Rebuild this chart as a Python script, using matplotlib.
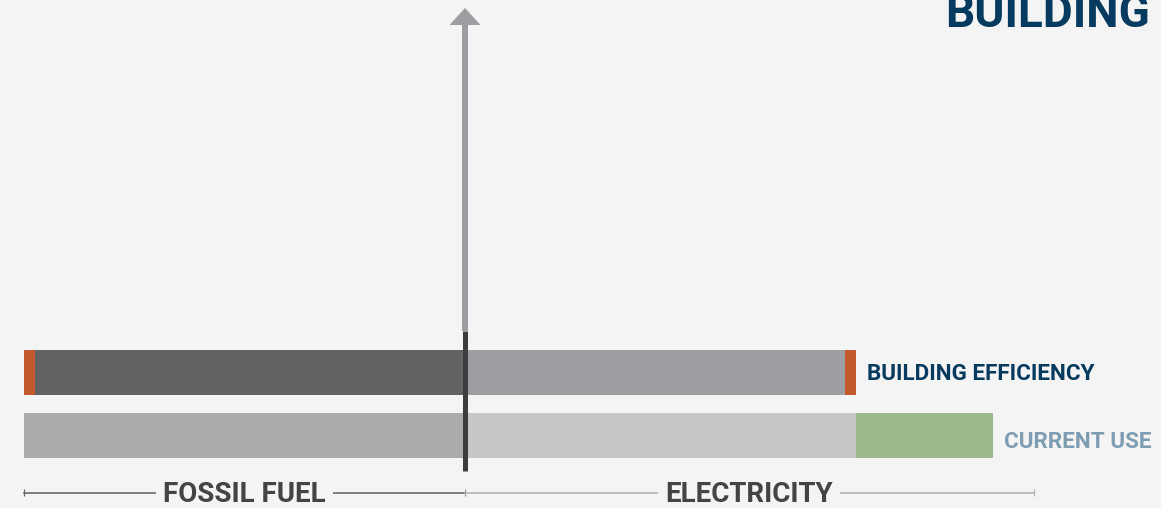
import matplotlib
matplotlib.use("Agg")
import matplotlib.pyplot as plt
from matplotlib.patches import Polygon

plt.rcParams["font.family"] = ["Roboto", "DejaVu Sans"]

# energy use by source, fossil fuel drawn to the left of the divide
rows = ["BUILDING EFFICIENCY", "CURRENT USE"]
fossil_use = [97.5, 100.0]
fossil_saved = [2.5, 0.0]
electric_use = [86.2, 88.7]
electric_saved = [2.5, 0.0]
electric_added = [0.0, 31.0]
fossil_span = 100.0
electric_span = 129.0

BG = "#f4f4f4"
NAVY = "#063a5e"
c_fossil = ["#636365", "#ababac"]
c_electric = ["#9d9ea1", "#c6c7c9"]
ORANGE = "#c25a2c"
GREEN = "#9cb88d"
label_colors = [NAVY, "#7f9db2"]

W, H, DPI = 1161, 508, 100
X0 = 465          # pixel column of the fossil / electricity divide
PPU = 4.41        # pixels per unit

fig = plt.figure(figsize=(W / DPI, H / DPI), dpi=DPI, facecolor=BG)
ax = fig.add_axes([0, 0, 1, 1])
ax.set_facecolor(BG)
ax.set_xlim(-X0 / PPU, (W - X0) / PPU)
ax.set_ylim(H, 0)
ax.axis("off")

pt = 72 / DPI  # one pixel in points
y_rows = [372.5, 435.5]
bar_h = 45

for i, y in enumerate(y_rows):
    ax.barh(y, -fossil_use[i], height=bar_h, color=c_fossil[i], lw=0)
    if fossil_saved[i]:
        ax.barh(y, -fossil_saved[i], left=-fossil_use[i], height=bar_h,
                color=ORANGE, lw=0)
    ax.barh(y, electric_use[i], height=bar_h, color=c_electric[i], lw=0)
    if electric_saved[i]:
        ax.barh(y, electric_saved[i], left=electric_use[i], height=bar_h,
                color=ORANGE, lw=0)
    if electric_added[i]:
        ax.barh(y, electric_added[i], left=electric_use[i], height=bar_h,
                color=GREEN, lw=0)

# row labels sit just past the end of each bar
ax.text(electric_use[0] + electric_saved[0] + 11 / PPU, y_rows[0] + 1.5, rows[0],
        color=label_colors[0], fontsize=16.2, fontweight="bold",
        va="center", ha="left")
ax.text(electric_use[1] + electric_added[1] + 11 / PPU, y_rows[1] + 7, rows[1],
        color=label_colors[1], fontsize=16.2, fontweight="bold",
        va="center", ha="left")

# upward arrow from the divide
ax.vlines(0, 25, 331, color="#9d9ea2", lw=6 * pt, zorder=3)
hw = 15.5 / PPU
ax.add_patch(Polygon([(-hw, 25), (hw, 25), (0, 8)], closed=True,
                     color="#9d9ea2", lw=0, zorder=3))
ax.vlines(0, 331, 471, color="#3d3d3d", lw=5 * pt, zorder=4)

# span brackets underneath
yb = 492.5
ax.plot([-fossil_span, 0], [yb, yb], color="#666666", lw=1.6 * pt)
ax.plot([0, electric_span], [yb, yb], color="#b3b3b3", lw=1.6 * pt)
for xv, col in [(-fossil_span, "#666666"), (0, "#999999"),
                (electric_span, "#b3b3b3")]:
    ax.vlines(xv, yb - 3.5, yb + 3.5, color=col, lw=1.2 * pt)
for xc, txt in [(-fossil_span / 2, "FOSSIL FUEL"), (electric_span / 2, "ELECTRICITY")]:
    ax.text(xc, yb + 9.5, txt, color="#444444", fontsize=20, fontweight="bold",
            ha="center", va="baseline",
            bbox=dict(boxstyle="square,pad=0.26", fc=BG, ec="none"))

fig.text(1150 / W, 1 - 27 / H, "BUILDING", color=NAVY, fontsize=33,
         fontweight="bold", ha="right", va="baseline")

fig.savefig("out.png", dpi=DPI, facecolor=BG)
